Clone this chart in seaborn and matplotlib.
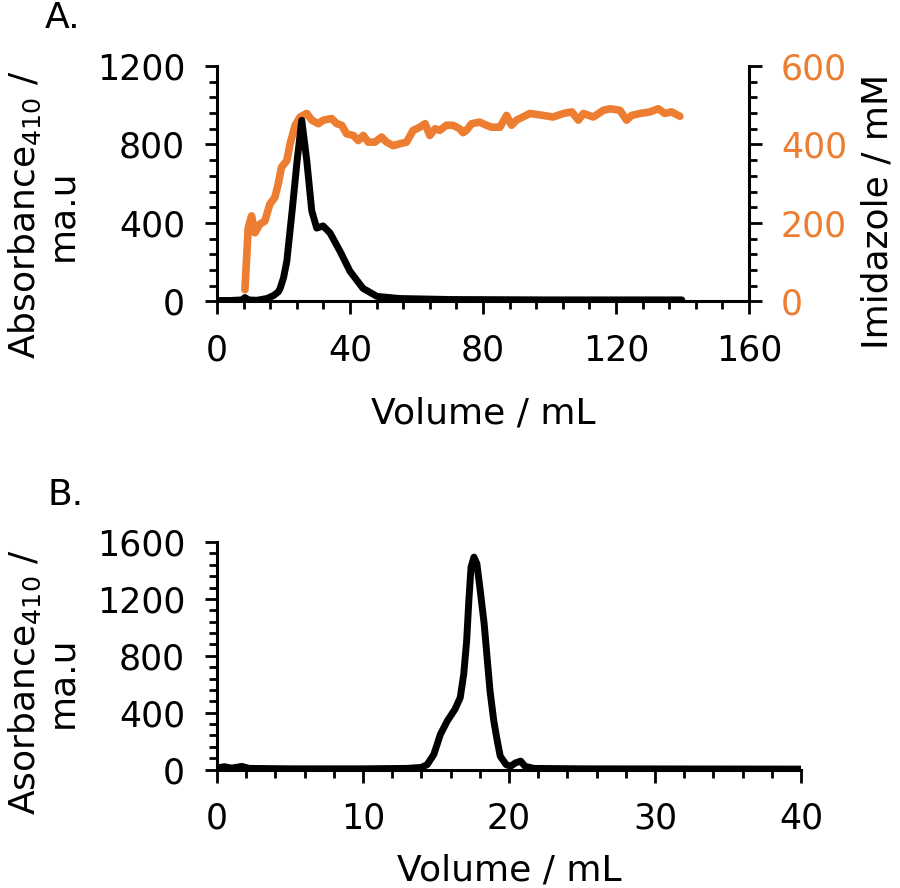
import numpy as np
import pandas as pd
import matplotlib
matplotlib.use("Agg")
import matplotlib.pyplot as plt
from matplotlib.ticker import MultipleLocator
import seaborn as sns

# --- Panel A : absorbance (axe gauche) et imidazole (axe droit) ---
vol_abs_a = [0, 4, 7.5, 8.4, 9.5, 12, 15, 17, 18.5, 19, 20, 21, 22.6, 24.1, 25.5,
             27, 28.5, 30, 31.9, 34, 37, 40, 43.9, 48.1, 55, 70, 100, 130, 139.8]
abs_a = [5, 5, 8, 20, 8, 6, 15, 30, 50, 67, 120, 205, 462, 718, 923,
         718, 462, 374, 385, 349, 256, 154, 67, 26, 15, 10, 8, 8, 8]

vol_imid = [8.4, 9.4, 10.4, 11.4, 12.9, 14.4, 15.9, 17.4, 18.4, 19.4, 21, 22, 23.5,
            25, 27, 28.5, 30.5, 32, 34.5, 36, 37.5, 39, 41, 42.5, 44, 45.5, 47.5,
            49.5, 51, 53, 55, 57, 59, 61, 62.6, 64, 65.6, 67, 69, 71, 73, 74, 75,
            76.6, 79, 81, 82.6, 85.1, 87.1, 88.6, 90.1, 94.1, 98.1, 101.1, 104.2,
            106.7, 108.7, 110.2, 113.2, 116.2, 118.2, 121.2, 123.2, 124.7, 127.2,
            130.2, 132.7, 134.7, 136.7, 139.2]
imid = [30, 188, 218, 175, 197, 205, 248, 265, 299, 342, 359, 402, 449,
        470, 479, 462, 453, 462, 466, 453, 449, 427, 423, 410, 423, 406, 406,
        419, 406, 397, 402, 406, 436, 444, 453, 423, 440, 436, 449, 449, 440, 430, 436,
        453, 457, 449, 444, 444, 474, 449, 462, 479, 474, 470, 479,
        483, 462, 479, 470, 487, 491, 487, 462, 474, 479,
        483, 491, 479, 483, 472]

# --- Panel B : exclusion de taille ---
vol_b = [0, 0.5, 1, 1.7, 2.2, 5, 10, 13, 14, 14.4, 14.85, 15.3, 15.77, 16.3, 16.66,
         16.9, 17.1, 17.25, 17.4, 17.6, 17.8, 18.03, 18.3, 18.5, 18.7, 18.96, 19.2,
         19.4, 19.8, 20.1, 20.45, 20.8, 21.1, 21.7, 25, 40]
abs_b = [10, 20, 10, 22, 8, 5, 5, 8, 15, 35, 106, 247, 341, 424, 506,
         671, 906, 1188, 1423, 1494, 1447, 1259, 1024, 788, 553, 341, 200,
         94, 35, 23, 47, 59, 23, 8, 5, 3]

ORANGE = "#ED7D31"

sns.set_style("ticks")
plt.rcParams["font.family"] = ["DejaVu Sans"]
plt.rcParams["text.color"] = "black"
plt.rcParams["axes.labelcolor"] = "black"
plt.rcParams["xtick.color"] = "black"
plt.rcParams["ytick.color"] = "black"

fig = plt.figure(figsize=(9, 8.88), dpi=100)
ax = fig.add_axes([0.2411, 0.6605, 0.5911, 0.2652])
ax2 = ax.twinx()
axb = fig.add_axes([0.2411, 0.1334, 0.6489, 0.2562])

df_a = pd.DataFrame({"Volume": vol_abs_a, "Abs": abs_a})
df_i = pd.DataFrame({"Volume": vol_imid, "Imid": imid})
df_b = pd.DataFrame({"Volume": vol_b, "Abs": abs_b})

sns.lineplot(data=df_a, x="Volume", y="Abs", ax=ax, color="black", linewidth=5,
             estimator=None, sort=False)
sns.lineplot(data=df_i, x="Volume", y="Imid", ax=ax2, color=ORANGE, linewidth=5.5,
             estimator=None, sort=False)
sns.lineplot(data=df_b, x="Volume", y="Abs", ax=axb, color="black", linewidth=5,
             estimator=None, sort=False)

# courbe noire au-dessus de l'orange
ax.set_zorder(ax2.get_zorder() + 1)
ax.patch.set_visible(False)

ax.set_xlim(0, 160)
ax.set_ylim(0, 1200)
ax2.set_ylim(0, 600)
axb.set_xlim(0, 40)
axb.set_ylim(0, 1600)

ax.xaxis.set_major_locator(MultipleLocator(40))
ax.xaxis.set_minor_locator(MultipleLocator(8))
ax.yaxis.set_major_locator(MultipleLocator(400))
ax.yaxis.set_minor_locator(MultipleLocator(80))
ax2.yaxis.set_major_locator(MultipleLocator(200))
ax2.yaxis.set_minor_locator(MultipleLocator(40))
axb.xaxis.set_major_locator(MultipleLocator(10))
axb.xaxis.set_minor_locator(MultipleLocator(2))
axb.yaxis.set_major_locator(MultipleLocator(400))
axb.yaxis.set_minor_locator(MultipleLocator(80))

for a in (ax, ax2, axb):
    a.tick_params(which="major", length=9, width=2, labelsize=25, pad=14,
                  direction="out", color="black", labelcolor="black")
    a.tick_params(which="minor", length=5.5, width=2, direction="out", color="black")
    a.set_xlabel("")
    a.set_ylabel("")
    for s in a.spines.values():
        s.set_linewidth(2.2)
        s.set_color("black")

ax.spines["top"].set_visible(False)
ax.spines["right"].set_visible(False)
ax2.spines["top"].set_visible(False)
ax2.spines["left"].set_visible(False)
ax2.spines["bottom"].set_visible(False)
ax2.tick_params(axis="y", labelcolor=ORANGE)
axb.spines["top"].set_visible(False)
axb.spines["right"].set_visible(False)

# titres d'axes
ax.set_xlabel("Volume / mL", fontsize=26)
ax.xaxis.set_label_coords(0.537, 0.5236, transform=fig.transFigure)
ax.xaxis.label.set_va("baseline")
axb.set_xlabel("Volume / mL", fontsize=26)
axb.xaxis.set_label_coords(0.5656, 0.008, transform=fig.transFigure)
axb.xaxis.label.set_va("baseline")

ax.set_ylabel("Absorbance$_{\\mathregular{410}}$ /\nma.u", fontsize=26,
              multialignment="center", linespacing=1.1)
ax.yaxis.set_label_coords(0.048, 0.758, transform=fig.transFigure)
ax.yaxis.label.set_va("center")
axb.set_ylabel("Asorbance$_{\\mathregular{410}}$ /\nma.u", fontsize=26,
               multialignment="center", linespacing=1.1)
axb.yaxis.set_label_coords(0.048, 0.232, transform=fig.transFigure)
axb.yaxis.label.set_va("center")
ax2.set_ylabel("Imidazole / mM", fontsize=26, rotation=90)
ax2.yaxis.set_label_coords(0.9745, 0.762, transform=fig.transFigure)
ax2.yaxis.label.set_va("center")

fig.text(0.070, 0.980, "A.", fontsize=26, ha="center", va="center")
fig.text(0.0733, 0.4426, "B.", fontsize=26, ha="center", va="center")

fig.savefig("out.png", dpi=100)
